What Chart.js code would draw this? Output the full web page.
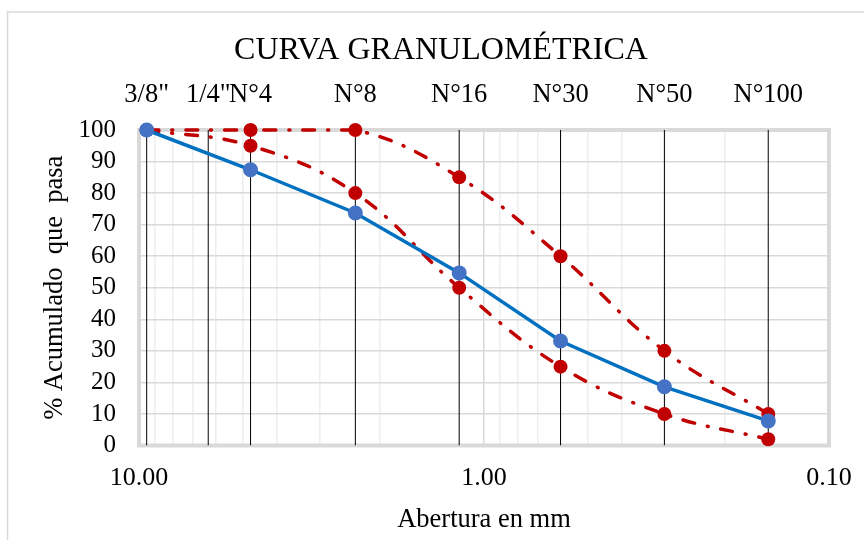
<!DOCTYPE html>
<html>
<head>
<meta charset="utf-8">
<script src="https://cdn.jsdelivr.net/npm/chart.js@4.4.1/dist/chart.umd.min.js"></script>
<style>
  html, body { margin: 0; padding: 0; background: #fff; }
  #wrap { width: 864px; height: 540px; }
</style>
</head>
<body>
<div id="wrap"><canvas id="granChart" width="864" height="540"></canvas></div>
<script>
// Tamices (mm) y etiquetas superiores
const sieveLabels = ['3/8"', '1/4"', 'N°4', 'N°8', 'N°16', 'N°30', 'N°50', 'N°100'];
const sieveOpenings = [9.5, 6.3, 4.75, 2.36, 1.18, 0.6, 0.3, 0.15];

// Curvas granulométricas
const curveOpenings = [9.5, 4.75, 2.36, 1.18, 0.6, 0.3, 0.15];
const passing = [100, 87.4, 73.7, 54.7, 33.1, 18.6, 7.8];
const upperLimit = [100, 100, 100, 85, 60, 30, 10];
const lowerLimit = [100, 95, 80, 50, 25, 10, 2];

// Eje X logarítmico
const xGridValues = [10, 9, 8, 7, 6, 5, 4, 3, 2, 1, 0.9, 0.8, 0.7, 0.6, 0.5, 0.4, 0.3, 0.2, 0.1];
const xMajorValues = [10, 1, 0.1];
const xMajorLabels = ['10.00', '1.00', '0.10'];

const serif = '"Liberation Serif", "Times New Roman", serif';

function toPoints(xs, ys) {
    return xs.map((x, i) => ({ x: x, y: ys[i] }));
}

// Líneas verticales de cada tamiz
const sieveLineSets = sieveOpenings.map(s => ({
    data: [{ x: s, y: 0 }, { x: s, y: 100 }],
    borderColor: '#000000',
    borderWidth: 1,
    pointRadius: 0,
    order: 10
}));

const redStyle = {
    borderColor: '#C00000',
    borderWidth: 3.5,
    borderDash: [12, 13, 1, 13],
    borderCapStyle: 'round',
    tension: 0.4,
    pointRadius: 7,
    pointBackgroundColor: '#C00000',
    pointBorderColor: '#C00000',
    pointBorderWidth: 0,
    clip: false,
    order: 2
};

// Marco del gráfico y del área de trazado
const framePlugin = {
    id: 'frames',
    beforeDraw(chart) {
        const ctx = chart.ctx;
        ctx.save();
        ctx.strokeStyle = '#d9d9d9';
        ctx.lineWidth = 1.5;
        ctx.strokeRect(7.5, 12, 1000, 1000);
        ctx.restore();
    },
    beforeDatasetsDraw(chart) {
        const a = chart.chartArea;
        const ctx = chart.ctx;
        ctx.save();
        ctx.strokeStyle = '#d9d9d9';
        ctx.lineWidth = 4;
        ctx.strokeRect(a.left, a.top, a.right - a.left, a.bottom - a.top);
        ctx.restore();
    }
};

new Chart(document.getElementById('granChart').getContext('2d'), {
    type: 'line',
    data: {
        datasets: [
            {
                data: toPoints(curveOpenings, passing),
                borderColor: '#0070C0',
                borderWidth: 3.5,
                tension: 0,
                pointRadius: 7.5,
                pointBackgroundColor: '#4472C4',
                pointBorderColor: '#4472C4',
                pointBorderWidth: 0,
                clip: false,
                order: 1
            },
            Object.assign({ data: toPoints(curveOpenings, upperLimit) }, redStyle),
            Object.assign({ data: toPoints(curveOpenings, lowerLimit) }, redStyle),
            ...sieveLineSets
        ]
    },
    options: {
        responsive: false,
        animation: false,
        layout: { padding: { left: 18, right: 0, top: 0, bottom: 0 } },
        plugins: {
            legend: { display: false },
            tooltip: { enabled: false },
            title: {
                display: true,
                text: 'CURVA GRANULOMÉTRICA',
                color: '#000',
                font: { family: serif, size: 32, weight: 'normal', lineHeight: 1.2 },
                padding: { top: 31, bottom: 0 }
            }
        },
        scales: {
            x: {
                type: 'logarithmic',
                position: 'bottom',
                reverse: true,
                min: 0.1,
                max: 10,
                afterBuildTicks: axis => { axis.ticks = xGridValues.map(v => ({ value: v })); },
                afterFit: s => { s.height = 94.5; s.paddingRight = 35; },
                ticks: {
                    autoSkip: false,
                    maxRotation: 0,
                    padding: 17,
                    color: '#000',
                    font: { family: serif, size: 26 },
                    callback: v => {
                        const i = xMajorValues.indexOf(v);
                        return i >= 0 ? xMajorLabels[i] : '';
                    }
                },
                grid: {
                    drawTicks: false,
                    lineWidth: 1.5,
                    color: c => (c.tick && xMajorValues.indexOf(c.tick.value) >= 0) ? '#d9d9d9' : '#eeeeee'
                },
                border: { display: false },
                title: {
                    display: true,
                    text: 'Abertura en mm',
                    color: '#000',
                    font: { family: serif, size: 26.5, lineHeight: 1.2 },
                    padding: { top: 0, bottom: 4 }
                }
            },
            x2: {
                type: 'logarithmic',
                position: 'top',
                reverse: true,
                min: 0.1,
                max: 10,
                afterBuildTicks: axis => { axis.ticks = sieveOpenings.map(v => ({ value: v })); },
                afterFit: s => { s.height = 60.6; },
                ticks: {
                    autoSkip: false,
                    maxRotation: 0,
                    padding: 19,
                    color: '#000',
                    font: { family: serif, size: 26.5 },
                    callback: v => sieveLabels[sieveOpenings.indexOf(v)]
                },
                grid: { display: false, drawTicks: false },
                border: { display: false }
            },
            y: {
                min: 0,
                max: 100,
                afterFit: s => { s.width = 121; },
                ticks: {
                    stepSize: 10,
                    autoSkip: false,
                    padding: 23,
                    color: '#000',
                    font: { family: serif, size: 25 }
                },
                grid: { drawTicks: false, color: '#d9d9d9', lineWidth: 1.5 },
                border: { display: false },
                title: {
                    display: true,
                    text: '% Acumulado  que  pasa',
                    color: '#000',
                    font: { family: serif, size: 26.5, lineHeight: 1.2 },
                    padding: { top: 21, bottom: 0 }
                }
            }
        }
    },
    plugins: [framePlugin]
});
</script>
</body>
</html>
